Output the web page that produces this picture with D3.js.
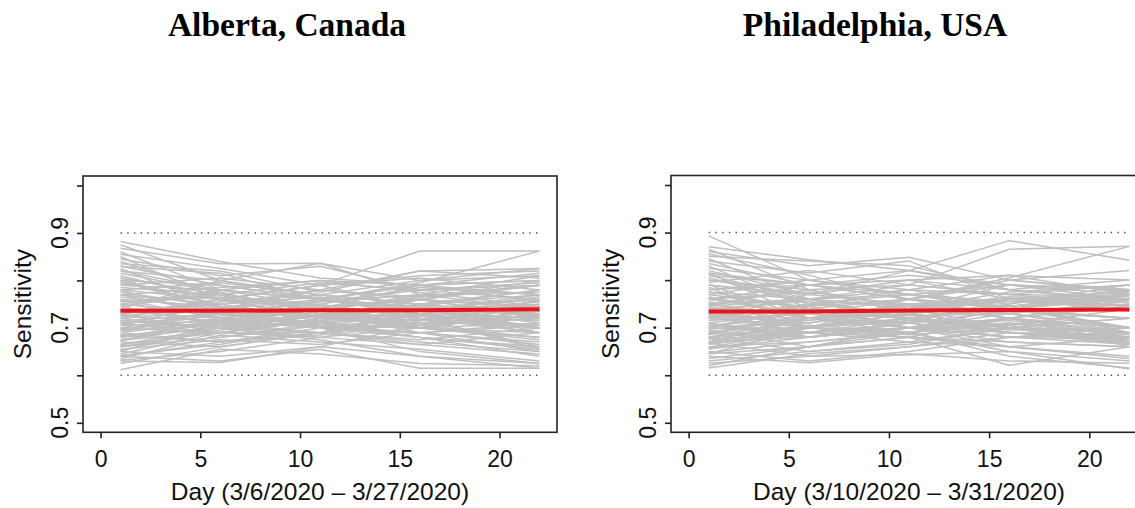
<!DOCTYPE html>
<html>
<head>
<meta charset="utf-8">
<script src="https://cdn.jsdelivr.net/npm/d3@7"></script>
<style>
  html, body { margin: 0; padding: 0; background: #fff; }
  svg { display: block; }
</style>
</head>
<body>
<svg id="chart" width="1135" height="508"></svg>
<script>
// Knot days at which each posterior draw of sensitivity is evaluated
const days = [1, 6, 11, 16, 22];

// Posterior draws, Alberta (one row per draw, values at the knot days)
const albertaDraws = [
  [0.882, 0.840, 0.805, 0.790, 0.770],
  [0.875, 0.800, 0.760, 0.735, 0.720],
  [0.868, 0.835, 0.836, 0.800, 0.825],
  [0.860, 0.780, 0.745, 0.700, 0.690],
  [0.855, 0.825, 0.790, 0.862, 0.862],
  [0.850, 0.760, 0.720, 0.760, 0.800],
  [0.845, 0.810, 0.830, 0.780, 0.760],
  [0.840, 0.770, 0.700, 0.720, 0.660],
  [0.835, 0.820, 0.775, 0.820, 0.825],
  [0.830, 0.790, 0.760, 0.745, 0.780],
  [0.825, 0.740, 0.780, 0.820, 0.805],
  [0.820, 0.800, 0.836, 0.770, 0.740],
  [0.815, 0.775, 0.730, 0.690, 0.650],
  [0.810, 0.760, 0.790, 0.810, 0.820],
  [0.805, 0.730, 0.700, 0.740, 0.700],
  [0.800, 0.790, 0.760, 0.795, 0.862],
  [0.795, 0.750, 0.720, 0.705, 0.760],
  [0.790, 0.805, 0.780, 0.760, 0.790],
  [0.785, 0.770, 0.745, 0.725, 0.715],
  [0.780, 0.720, 0.760, 0.790, 0.800],
  [0.775, 0.745, 0.705, 0.680, 0.640],
  [0.770, 0.785, 0.800, 0.775, 0.745],
  [0.765, 0.740, 0.770, 0.750, 0.780],
  [0.760, 0.700, 0.690, 0.735, 0.765],
  [0.755, 0.765, 0.740, 0.700, 0.680],
  [0.750, 0.730, 0.755, 0.770, 0.810],
  [0.745, 0.775, 0.720, 0.745, 0.725],
  [0.740, 0.710, 0.740, 0.790, 0.755],
  [0.735, 0.750, 0.765, 0.720, 0.700],
  [0.730, 0.690, 0.720, 0.760, 0.790],
  [0.728, 0.760, 0.790, 0.740, 0.730],
  [0.725, 0.715, 0.700, 0.680, 0.660],
  [0.720, 0.740, 0.735, 0.770, 0.775],
  [0.715, 0.700, 0.760, 0.745, 0.710],
  [0.712, 0.680, 0.710, 0.700, 0.740],
  [0.710, 0.725, 0.745, 0.760, 0.720],
  [0.705, 0.755, 0.770, 0.725, 0.690],
  [0.700, 0.690, 0.680, 0.715, 0.750],
  [0.698, 0.720, 0.700, 0.650, 0.625],
  [0.695, 0.705, 0.730, 0.735, 0.770],
  [0.690, 0.740, 0.760, 0.790, 0.800],
  [0.685, 0.670, 0.700, 0.690, 0.705],
  [0.682, 0.710, 0.725, 0.705, 0.680],
  [0.680, 0.700, 0.675, 0.640, 0.615],
  [0.675, 0.690, 0.715, 0.760, 0.740],
  [0.672, 0.720, 0.750, 0.720, 0.700],
  [0.670, 0.660, 0.690, 0.730, 0.720],
  [0.665, 0.700, 0.680, 0.665, 0.645],
  [0.662, 0.680, 0.705, 0.700, 0.730],
  [0.660, 0.695, 0.730, 0.750, 0.690],
  [0.655, 0.675, 0.665, 0.690, 0.670],
  [0.652, 0.700, 0.715, 0.680, 0.660],
  [0.650, 0.640, 0.660, 0.705, 0.735],
  [0.645, 0.690, 0.690, 0.675, 0.700],
  [0.642, 0.665, 0.700, 0.720, 0.655],
  [0.640, 0.630, 0.655, 0.615, 0.615],
  [0.635, 0.685, 0.670, 0.655, 0.630],
  [0.632, 0.650, 0.680, 0.700, 0.710],
  [0.630, 0.627, 0.660, 0.640, 0.625],
  [0.625, 0.660, 0.690, 0.665, 0.690],
  [0.612, 0.655, 0.645, 0.625, 0.620],
  [0.740, 0.800, 0.770, 0.800, 0.810],
  [0.760, 0.720, 0.710, 0.680, 0.655],
  [0.720, 0.760, 0.725, 0.740, 0.760],
  [0.700, 0.735, 0.700, 0.725, 0.740],
  [0.780, 0.760, 0.750, 0.785, 0.770],
  [0.690, 0.715, 0.740, 0.705, 0.720],
  [0.800, 0.745, 0.715, 0.730, 0.700],
  [0.650, 0.710, 0.740, 0.760, 0.725],
  [0.830, 0.815, 0.760, 0.730, 0.745],
  [0.790, 0.780, 0.760, 0.740, 0.750],
  [0.770, 0.750, 0.780, 0.765, 0.790],
  [0.750, 0.780, 0.760, 0.735, 0.720],
  [0.735, 0.720, 0.745, 0.760, 0.745],
  [0.725, 0.745, 0.720, 0.730, 0.700],
  [0.715, 0.730, 0.755, 0.780, 0.790],
  [0.705, 0.715, 0.725, 0.700, 0.680],
  [0.695, 0.730, 0.710, 0.740, 0.760],
  [0.685, 0.700, 0.735, 0.720, 0.690],
  [0.675, 0.705, 0.690, 0.710, 0.745],
  [0.665, 0.690, 0.720, 0.745, 0.700],
  [0.760, 0.745, 0.725, 0.710, 0.725],
  [0.780, 0.795, 0.770, 0.750, 0.730],
  [0.805, 0.770, 0.740, 0.765, 0.790],
  [0.820, 0.780, 0.800, 0.790, 0.815],
  [0.745, 0.705, 0.730, 0.715, 0.740],
  [0.730, 0.760, 0.740, 0.700, 0.675],
  [0.710, 0.690, 0.715, 0.750, 0.770],
  [0.700, 0.710, 0.690, 0.670, 0.650],
  [0.690, 0.670, 0.685, 0.720, 0.705],
  [0.660, 0.680, 0.705, 0.690, 0.665],
  [0.640, 0.670, 0.690, 0.710, 0.720],
  [0.770, 0.730, 0.710, 0.725, 0.705],
  [0.795, 0.760, 0.790, 0.805, 0.780],
  [0.755, 0.770, 0.795, 0.780, 0.795],
  [0.720, 0.700, 0.725, 0.745, 0.735],
  [0.680, 0.715, 0.745, 0.730, 0.755],
  [0.740, 0.740, 0.700, 0.690, 0.710]
];
const albertaMean = [0.736, 0.736, 0.737, 0.737, 0.739];

// Posterior draws, Philadelphia
const philadelphiaDraws = [
  [0.893, 0.800, 0.770, 0.740, 0.720],
  [0.870, 0.843, 0.820, 0.790, 0.760],
  [0.865, 0.780, 0.730, 0.700, 0.665],
  [0.860, 0.830, 0.848, 0.800, 0.780],
  [0.855, 0.810, 0.760, 0.745, 0.700],
  [0.850, 0.840, 0.830, 0.780, 0.800],
  [0.845, 0.760, 0.720, 0.690, 0.680],
  [0.840, 0.815, 0.840, 0.760, 0.745],
  [0.835, 0.790, 0.800, 0.810, 0.770],
  [0.830, 0.740, 0.700, 0.720, 0.660],
  [0.825, 0.800, 0.770, 0.750, 0.790],
  [0.820, 0.770, 0.820, 0.780, 0.755],
  [0.815, 0.720, 0.690, 0.650, 0.630],
  [0.810, 0.790, 0.760, 0.800, 0.820],
  [0.805, 0.750, 0.730, 0.700, 0.680],
  [0.800, 0.780, 0.790, 0.865, 0.871],
  [0.790, 0.760, 0.740, 0.765, 0.760],
  [0.785, 0.700, 0.720, 0.690, 0.670],
  [0.780, 0.800, 0.780, 0.740, 0.760],
  [0.775, 0.740, 0.760, 0.790, 0.780],
  [0.770, 0.800, 0.820, 0.883, 0.842],
  [0.765, 0.720, 0.700, 0.670, 0.660],
  [0.760, 0.775, 0.745, 0.760, 0.770],
  [0.755, 0.700, 0.730, 0.745, 0.690],
  [0.750, 0.760, 0.790, 0.770, 0.745],
  [0.745, 0.790, 0.760, 0.805, 0.871],
  [0.742, 0.730, 0.700, 0.720, 0.680],
  [0.740, 0.680, 0.710, 0.760, 0.770],
  [0.735, 0.760, 0.770, 0.740, 0.700],
  [0.730, 0.710, 0.740, 0.790, 0.780],
  [0.728, 0.740, 0.720, 0.700, 0.665],
  [0.725, 0.690, 0.680, 0.720, 0.760],
  [0.720, 0.750, 0.770, 0.755, 0.745],
  [0.715, 0.730, 0.710, 0.680, 0.675],
  [0.710, 0.680, 0.700, 0.740, 0.760],
  [0.705, 0.720, 0.750, 0.730, 0.690],
  [0.700, 0.750, 0.730, 0.700, 0.680],
  [0.698, 0.700, 0.690, 0.705, 0.740],
  [0.695, 0.660, 0.680, 0.720, 0.700],
  [0.690, 0.710, 0.740, 0.775, 0.790],
  [0.688, 0.680, 0.700, 0.660, 0.640],
  [0.685, 0.730, 0.760, 0.745, 0.770],
  [0.680, 0.650, 0.670, 0.700, 0.680],
  [0.678, 0.700, 0.720, 0.690, 0.665],
  [0.675, 0.690, 0.680, 0.621, 0.660],
  [0.670, 0.720, 0.710, 0.735, 0.720],
  [0.668, 0.640, 0.660, 0.690, 0.680],
  [0.665, 0.690, 0.700, 0.680, 0.700],
  [0.660, 0.670, 0.690, 0.640, 0.615],
  [0.658, 0.700, 0.740, 0.760, 0.745],
  [0.655, 0.680, 0.700, 0.705, 0.670],
  [0.650, 0.630, 0.650, 0.680, 0.690],
  [0.648, 0.670, 0.690, 0.720, 0.700],
  [0.645, 0.700, 0.680, 0.660, 0.635],
  [0.640, 0.626, 0.645, 0.630, 0.625],
  [0.635, 0.660, 0.700, 0.690, 0.675],
  [0.630, 0.650, 0.665, 0.700, 0.720],
  [0.625, 0.640, 0.643, 0.650, 0.613],
  [0.620, 0.660, 0.680, 0.670, 0.660],
  [0.615, 0.645, 0.660, 0.680, 0.690],
  [0.760, 0.745, 0.780, 0.810, 0.800],
  [0.720, 0.770, 0.800, 0.760, 0.760],
  [0.790, 0.720, 0.750, 0.730, 0.750],
  [0.700, 0.740, 0.720, 0.750, 0.780],
  [0.740, 0.700, 0.690, 0.710, 0.670],
  [0.680, 0.720, 0.730, 0.700, 0.665],
  [0.810, 0.760, 0.720, 0.745, 0.760],
  [0.670, 0.700, 0.760, 0.800, 0.775],
  [0.750, 0.780, 0.740, 0.700, 0.675],
  [0.705, 0.690, 0.670, 0.660, 0.680],
  [0.790, 0.770, 0.750, 0.760, 0.775],
  [0.775, 0.760, 0.780, 0.770, 0.765],
  [0.760, 0.730, 0.720, 0.700, 0.690],
  [0.745, 0.760, 0.745, 0.730, 0.755],
  [0.730, 0.745, 0.760, 0.720, 0.685],
  [0.720, 0.700, 0.715, 0.745, 0.770],
  [0.710, 0.735, 0.720, 0.700, 0.675],
  [0.700, 0.715, 0.740, 0.755, 0.760],
  [0.690, 0.690, 0.710, 0.690, 0.680],
  [0.680, 0.705, 0.690, 0.720, 0.745],
  [0.670, 0.680, 0.715, 0.700, 0.690],
  [0.655, 0.690, 0.720, 0.740, 0.700],
  [0.780, 0.790, 0.760, 0.740, 0.770],
  [0.800, 0.770, 0.800, 0.780, 0.760],
  [0.815, 0.790, 0.770, 0.790, 0.780],
  [0.750, 0.720, 0.700, 0.715, 0.680],
  [0.735, 0.700, 0.730, 0.760, 0.735],
  [0.715, 0.745, 0.700, 0.680, 0.665],
  [0.705, 0.680, 0.700, 0.730, 0.700],
  [0.690, 0.720, 0.745, 0.720, 0.690],
  [0.665, 0.700, 0.685, 0.700, 0.720],
  [0.645, 0.660, 0.690, 0.710, 0.685],
  [0.770, 0.740, 0.725, 0.730, 0.750],
  [0.795, 0.820, 0.790, 0.770, 0.790],
  [0.760, 0.790, 0.810, 0.790, 0.770],
  [0.725, 0.720, 0.750, 0.735, 0.720],
  [0.685, 0.740, 0.720, 0.705, 0.670],
  [0.740, 0.755, 0.715, 0.695, 0.700]
];
const philadelphiaMean = [0.734, 0.734, 0.736, 0.737, 0.738];

// Reference band limits drawn as dotted lines
const bandLimits = [0.6, 0.9];

// Axis ticks
const xTicks = [0, 5, 10, 15, 20];
const yTicks = [0.5, 0.6, 0.7, 0.8, 0.9, 1.0];
const yLabelled = [0.5, 0.7, 0.9];

const titles = ["Alberta, Canada", "Philadelphia, USA"];
const xTitles = ["Day (3/6/2020 \u2013 3/27/2020)", "Day (3/10/2020 \u2013 3/31/2020)"];
const yTitle = "Sensitivity";

// Panel layout
const panels = [
  { draws: albertaDraws, mean: albertaMean, title: titles[0], xTitle: xTitles[0],
    left: 83, right: 557, top: 176, bottom: 432.3, titleX: 287 },
  { draws: philadelphiaDraws, mean: philadelphiaMean, title: titles[1], xTitle: xTitles[1],
    left: 671, right: 1147, top: 175.5, bottom: 432.3, titleX: 875 }
];

const svg = d3.select("#chart");
svg.append("rect").attr("width", 1135).attr("height", 508).attr("fill", "#fff");

const sansFont = "'Liberation Sans', Arial, Helvetica, sans-serif";
const fmt = d3.format(".1f");

panels.forEach(p => {
  // 4% padding around xlim = c(0, 22), ylim = c(0.5, 1)
  const x = d3.scaleLinear().domain([-0.88, 22.88]).range([p.left, p.right]);
  const y = d3.scaleLinear().domain([0.48, 1.02]).range([p.bottom, p.top]);

  const g = svg.append("g");

  const line = d3.line()
    .x((d, i) => x(days[i]))
    .y(d => y(d));

  // Dotted band limits
  g.selectAll("line.band").data(bandLimits).enter().append("line")
    .attr("x1", x(days[0])).attr("x2", x(days[days.length - 1]))
    .attr("y1", d => y(d)).attr("y2", d => y(d))
    .attr("stroke", "#555").attr("stroke-width", 1.5)
    .attr("stroke-dasharray", "1.5,5.2");

  // Posterior draws
  g.selectAll("path.draw").data(p.draws).enter().append("path")
    .attr("d", line)
    .attr("fill", "none")
    .attr("stroke", "#bfbfbf")
    .attr("stroke-width", 1.5)
    .attr("stroke-linejoin", "round");

  // Posterior mean
  g.append("path").datum(p.mean)
    .attr("d", line)
    .attr("fill", "none")
    .attr("stroke", "#e8141a")
    .attr("stroke-width", 4);

  // Plot frame
  g.append("rect")
    .attr("x", p.left).attr("y", p.top)
    .attr("width", p.right - p.left).attr("height", p.bottom - p.top)
    .attr("fill", "none").attr("stroke", "#222").attr("stroke-width", 1.6);

  // X axis
  const xAxis = g.append("g")
    .attr("transform", `translate(0,${p.bottom})`)
    .call(d3.axisBottom(x).tickValues(xTicks).tickSize(6).tickSizeOuter(0).tickPadding(4));
  xAxis.select(".domain").remove();
  xAxis.selectAll(".tick line").attr("stroke", "#222").attr("stroke-width", 1.6);
  xAxis.selectAll(".tick text")
    .attr("font-family", sansFont).attr("font-size", 23).attr("fill", "#111")
    .attr("dy", null).attr("y", 34.3);

  // Y axis ticks
  const yAxis = g.append("g")
    .attr("transform", `translate(${p.left},0)`)
    .call(d3.axisLeft(y).tickValues(yTicks).tickSize(6).tickSizeOuter(0).tickFormat(""));
  yAxis.select(".domain").remove();
  yAxis.selectAll(".tick line").attr("stroke", "#222").attr("stroke-width", 1.6);

  // Rotated y tick labels
  g.selectAll("text.ylab").data(yLabelled).enter().append("text")
    .attr("transform", d => `translate(${p.left - 15.5},${y(d)}) rotate(-90)`)
    .attr("text-anchor", "middle")
    .attr("font-family", sansFont).attr("font-size", 23).attr("fill", "#111")
    .text(d => fmt(d));

  // Axis titles
  g.append("text")
    .attr("x", (p.left + p.right) / 2).attr("y", 500)
    .attr("text-anchor", "middle")
    .attr("font-family", sansFont).attr("font-size", 24.5).attr("fill", "#111")
    .text(p.xTitle);

  g.append("text")
    .attr("transform", `translate(${p.left - 52},${(p.top + p.bottom) / 2}) rotate(-90)`)
    .attr("text-anchor", "middle")
    .attr("font-family", sansFont).attr("font-size", 24.5).attr("fill", "#111")
    .text(yTitle);

  // Panel title
  svg.append("text")
    .attr("x", p.titleX).attr("y", 36)
    .attr("text-anchor", "middle")
    .attr("font-family", "'Liberation Serif', 'Times New Roman', serif")
    .attr("font-weight", "bold").attr("font-size", 33.5).attr("fill", "#000")
    .text(p.title);
});
</script>
</body>
</html>
